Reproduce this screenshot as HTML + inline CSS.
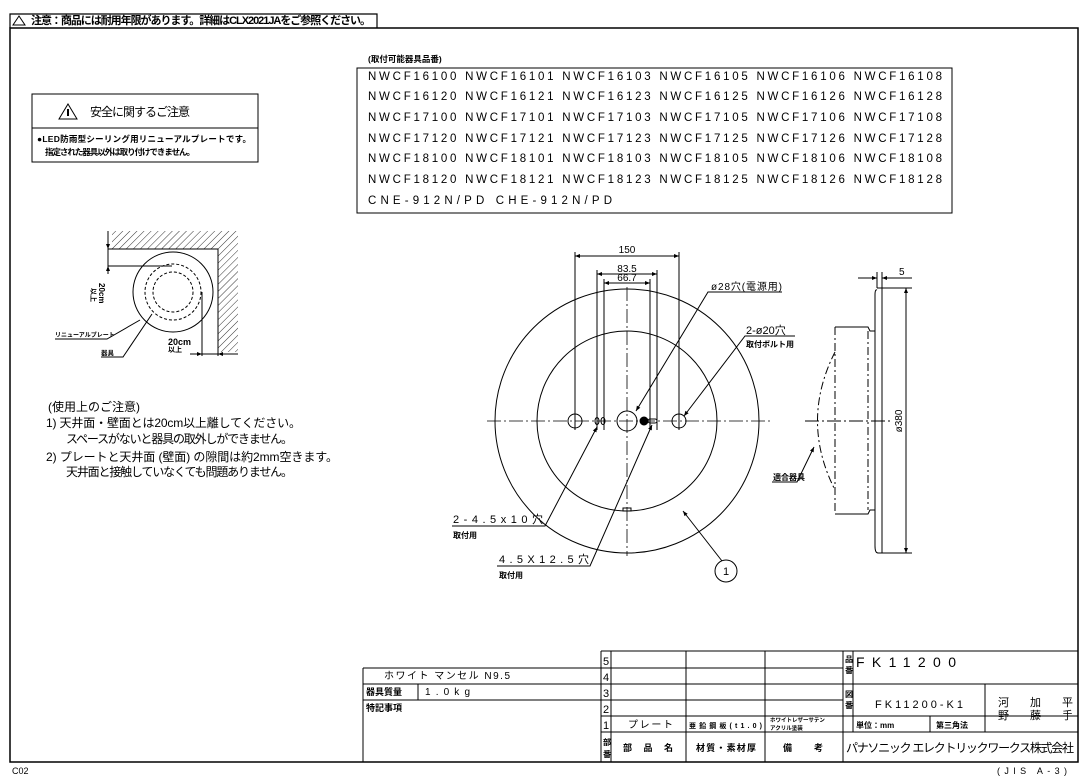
<!DOCTYPE html>
<html><head><meta charset="utf-8"><style>
html,body{margin:0;padding:0;background:#fff;}
svg{display:block;}
text{font-family:"Liberation Sans","Noto Sans CJK JP",sans-serif;fill:#000;}
.b{font-weight:bold;}
</style></head><body>
<svg width="1087" height="779" viewBox="0 0 1087 779" xmlns="http://www.w3.org/2000/svg">
<defs>
<pattern id="h" width="5" height="5" patternUnits="userSpaceOnUse" patternTransform="rotate(45)">
<line x1="0" y1="0" x2="0" y2="5" stroke="#000" stroke-width="0.8"/></pattern>
<marker id="a" viewBox="0 0 10 10" refX="10" refY="5" markerWidth="7" markerHeight="5" orient="auto-start-reverse"><path d="M0,1 L10,5 L0,9z" fill="#000"/></marker>
</defs>
<g fill="none" stroke="#000">
<!-- frame -->
<rect x="10" y="28" width="1068" height="734" stroke-width="1.5"/>
<path d="M10 28 V14 H377 V28" stroke-width="1.2"/>
</g>
<path d="M19 16 L25 25 L13 25z" fill="none" stroke="#000"/>
<text x="31" y="24" font-size="11" class="b" textLength="340">注意：商品には耐用年限があります。詳細はCLX2021JAをご参照ください。</text>

<!-- safety box -->
<rect x="32" y="94" width="226" height="68" fill="none" stroke="#000"/>
<line x1="32" y1="128" x2="258" y2="128" stroke="#000"/>
<path d="M68 104 L77 119 L59 119z" fill="none" stroke="#000"/>
<line x1="68" y1="109" x2="68" y2="116" stroke="#000" stroke-width="2"/>
<text x="90" y="116" font-size="12" textLength="100">安全に関するご注意</text>
<text x="37" y="142" font-size="8.5" class="b" textLength="214">●LED防雨型シーリング用リニューアルプレートです。</text>
<text x="45" y="155" font-size="8.5" class="b" textLength="150">指定された器具以外は取り付けできません。</text>

<!-- corner diagram -->
<rect x="112" y="231" width="126" height="18" fill="url(#h)"/>
<rect x="218" y="249" width="20" height="103" fill="url(#h)"/>
<g fill="none" stroke="#000">
<path d="M108 249 H218 V356"/>
<circle cx="173" cy="292" r="40"/>
<circle cx="173" cy="292" r="28" stroke-dasharray="3,2"/>
<circle cx="173" cy="292" r="20" stroke-dasharray="3,2"/>
<line x1="108" y1="231" x2="108" y2="268"/>
<line x1="108" y1="266" x2="172" y2="266"/>
<line x1="108" y1="240" x2="108" y2="249" marker-end="url(#a)"/>
<line x1="108" y1="257" x2="108" y2="249" marker-end="url(#a)" transform="translate(0,17)"/>
<line x1="202" y1="292" x2="202" y2="356"/>
<line x1="192" y1="354" x2="238" y2="354"/>
<line x1="190" y1="354" x2="202" y2="354" marker-end="url(#a)"/>
<line x1="232" y1="354" x2="218" y2="354" marker-end="url(#a)"/>
<polyline points="55,339 107,339 140,320" />
<polyline points="101,357 123,357 152,314"/>
</g>
<text transform="translate(99,283) rotate(90)" font-size="8" class="b">20cm</text>
<text transform="translate(91,288) rotate(90)" font-size="7" class="b">以上</text>
<text x="168" y="345" font-size="9" class="b">20cm</text>
<text x="168" y="352" font-size="7" class="b">以上</text>
<text x="55" y="337" font-size="6" class="b">リニューアルプレート</text>
<text x="101" y="355" font-size="6.5" class="b">器具</text>

<!-- notes -->
<g font-size="12">
<text x="48" y="411">(使用上のご注意)</text>
<text x="46" y="427" textLength="255">1) 天井面・壁面とは20cm以上離してください。</text>
<text x="66" y="443" textLength="227">スペースがないと器具の取外しができません。</text>
<text x="46" y="461" textLength="292">2) プレートと天井面 (壁面) の隙間は約2mm空きます。</text>
<text x="66" y="476" textLength="227">天井面と接触していなくても問題ありません。</text>
</g>

<!-- product list -->
<text x="368" y="62" font-size="8.5" class="b">(取付可能器具品番)</text>
<rect x="357" y="68" width="595" height="145" fill="none" stroke="#000"/>
<g font-size="11.5">
<text x="368" y="80" textLength="574">NWCF16100 NWCF16101 NWCF16103 NWCF16105 NWCF16106 NWCF16108</text>
<text x="368" y="100" textLength="574">NWCF16120 NWCF16121 NWCF16123 NWCF16125 NWCF16126 NWCF16128</text>
<text x="368" y="121" textLength="574">NWCF17100 NWCF17101 NWCF17103 NWCF17105 NWCF17106 NWCF17108</text>
<text x="368" y="142" textLength="574">NWCF17120 NWCF17121 NWCF17123 NWCF17125 NWCF17126 NWCF17128</text>
<text x="368" y="162" textLength="574">NWCF18100 NWCF18101 NWCF18103 NWCF18105 NWCF18106 NWCF18108</text>
<text x="368" y="183" textLength="574">NWCF18120 NWCF18121 NWCF18123 NWCF18125 NWCF18126 NWCF18128</text>
<text x="368" y="204" textLength="244">CNE-912N/PD    CHE-912N/PD</text>
</g>

<!-- plan view -->
<g fill="none" stroke="#000">
<circle cx="627" cy="421" r="132"/>
<circle cx="627" cy="421" r="90"/>
<line x1="487" y1="421" x2="770" y2="421" stroke-dasharray="14,3,2,3" stroke-width="0.8"/>
<line x1="627" y1="287" x2="627" y2="556" stroke-dasharray="14,3,2,3" stroke-width="0.8"/>
<circle cx="575" cy="421" r="7"/><circle cx="679" cy="421" r="7"/>
<circle cx="627" cy="421" r="10"/>
<ellipse cx="597" cy="421" rx="2" ry="3.5"/><ellipse cx="603" cy="421" rx="2" ry="3.5"/>
<circle cx="644" cy="421" r="4" fill="#000"/>
<rect x="648" y="419" width="9" height="4" rx="2"/>
<rect x="623" y="508" width="8" height="3"/>
<line x1="575" y1="252" x2="575" y2="430"/><line x1="679" y1="252" x2="679" y2="430"/>
<line x1="597" y1="270" x2="597" y2="430"/><line x1="657" y1="270" x2="657" y2="430"/>
<line x1="604" y1="279" x2="604" y2="430"/><line x1="650" y1="279" x2="650" y2="430"/>
<line x1="575" y1="256" x2="679" y2="256" marker-start="url(#a)" marker-end="url(#a)"/>
<line x1="597" y1="274" x2="657" y2="274" marker-start="url(#a)" marker-end="url(#a)"/>
<line x1="604" y1="283" x2="650" y2="283" marker-start="url(#a)" marker-end="url(#a)"/>
<polyline points="782,292 708,292 636,411" marker-end="url(#a)"/>
<polyline points="795,336 745,336 684,416" marker-end="url(#a)"/>
<polyline points="452,526 545,526 597,427" marker-end="url(#a)"/>
<polyline points="497,566 590,566 652,425" marker-end="url(#a)"/>
<line x1="722" y1="561" x2="683" y2="511" marker-end="url(#a)"/>
<circle cx="726" cy="571" r="11"/>
</g>
<g font-size="10">
<text x="627" y="253" text-anchor="middle">150</text>
<text x="627" y="272" text-anchor="middle">83.5</text>
<text x="627" y="281" text-anchor="middle">66.7</text>
<text x="711" y="290" textLength="71">ø28穴(電源用)</text>
<text x="746" y="334" font-size="11">2-ø20穴</text>
<text x="746" y="347" font-size="8" class="b">取付ボルト用</text>
<text x="453" y="523" font-size="11" textLength="90">2-4.5x10穴</text>
<text x="453" y="538" font-size="8" class="b">取付用</text>
<text x="499" y="563" font-size="11" textLength="90">4.5X12.5穴</text>
<text x="499" y="578" font-size="8" class="b">取付用</text>
<text x="726" y="575" text-anchor="middle" font-size="11">1</text>
</g>

<!-- side view -->
<g fill="none" stroke="#000">
<path d="M877 290 Q875 289 875 295 V546 Q875 553 878 553 H882 V288 H877"/>
<path d="M835 327 H868 L870 331 H875 M835 514 H868 L870 510 H875" />
<line x1="835" y1="327" x2="835" y2="514" stroke-dasharray="8,3,2,3"/>
<line x1="868" y1="331" x2="868" y2="510" stroke-dasharray="8,3,2,3"/>
<path d="M835 352 Q800 421 835 490" stroke-dasharray="8,3,2,3"/>
<line x1="805" y1="421" x2="890" y2="421" stroke-dasharray="14,3,2,3"/>
<line x1="882" y1="288" x2="912" y2="288"/><line x1="882" y1="553" x2="912" y2="553"/>
<line x1="906" y1="288" x2="906" y2="553" marker-start="url(#a)" marker-end="url(#a)"/>
<line x1="877" y1="272" x2="877" y2="288"/><line x1="882" y1="272" x2="882" y2="288"/>
<line x1="858" y1="278" x2="877" y2="278" marker-end="url(#a)"/>
<line x1="900" y1="278" x2="882" y2="278" marker-end="url(#a)"/>
<line x1="882" y1="278" x2="912" y2="278"/>
<polyline points="772,482 797,482 814,447" marker-end="url(#a)"/>
</g>
<text x="899" y="275" font-size="10">5</text>
<text transform="translate(902,421) rotate(-90)" font-size="10" text-anchor="middle">ø380</text>
<text x="773" y="480" font-size="8" class="b">適合器具</text>

<!-- title block -->
<g fill="none" stroke="#000">
<line x1="601" y1="651" x2="1078" y2="651"/>
<line x1="363" y1="668" x2="843" y2="668"/>
<line x1="363" y1="684" x2="1078" y2="684"/>
<line x1="363" y1="700" x2="843" y2="700"/>
<line x1="601" y1="716" x2="1078" y2="716"/>
<line x1="601" y1="732" x2="1078" y2="732"/>
<line x1="363" y1="668" x2="363" y2="762"/>
<line x1="418" y1="684" x2="418" y2="700"/>
<line x1="601" y1="651" x2="601" y2="762"/>
<line x1="611" y1="651" x2="611" y2="762"/>
<line x1="686" y1="651" x2="686" y2="762"/>
<line x1="765" y1="651" x2="765" y2="762"/>
<line x1="843" y1="651" x2="843" y2="762"/>
<line x1="853" y1="651" x2="853" y2="732"/>
<line x1="985" y1="684" x2="985" y2="732"/>
<line x1="930" y1="716" x2="930" y2="732"/>
</g>
<g font-size="11">
<text x="603" y="665">5</text><text x="603" y="681">4</text><text x="603" y="697">3</text>
<text x="603" y="713">2</text><text x="603" y="729">1</text>
</g>
<text x="603" y="745" font-size="8" class="b">部</text><text x="603" y="757" font-size="8" class="b">番</text>
<text x="384" y="679" font-size="10" textLength="126">ホワイト マンセル N9.5</text>
<text x="366" y="695" font-size="9" class="b">器具質量</text>
<text x="425" y="695" font-size="10" textLength="45">1.0kg</text>
<text x="366" y="711" font-size="9" class="b">特記事項</text>
<text x="628" y="728" font-size="10" textLength="45">プレート</text>
<text x="689" y="728" font-size="7" class="b" textLength="73">亜鉛鋼板(t1.0)</text>
<text x="770" y="722" font-size="5.5" class="b">ホワイトレザーサテン</text>
<text x="770" y="730" font-size="5.5" class="b">アクリル塗装</text>
<text x="623" y="751" font-size="9" class="b" textLength="50">部 品 名</text>
<text x="696" y="751" font-size="9" class="b" textLength="60">材質・素材厚</text>
<text x="783" y="751" font-size="9" class="b" textLength="40">備  考</text>
<text x="845" y="662" font-size="8" class="b">品</text><text x="845" y="673" font-size="8" class="b">番</text>
<text x="845" y="697" font-size="8" class="b">図</text><text x="845" y="708" font-size="8" class="b">番</text>
<text x="856" y="667" font-size="14" textLength="100">FK11200</text>
<text x="875" y="708" font-size="11" textLength="88">FK11200-K1</text>
<text x="856" y="728" font-size="8" class="b">単位：mm</text>
<text x="936" y="728" font-size="8" class="b">第三角法</text>
<text x="998" y="706" font-size="11">河</text><text x="998" y="719" font-size="11">野</text>
<text x="1030" y="706" font-size="11">加</text><text x="1030" y="719" font-size="11">藤</text>
<text x="1062" y="706" font-size="11">平</text><text x="1062" y="719" font-size="11">手</text>
<text x="846" y="752" font-size="12" textLength="228">パナソニック エレクトリックワークス株式会社</text>
<text x="12" y="774" font-size="9">C02</text>
<text x="997" y="774" font-size="9" textLength="70">(JIS A-3)</text>
</svg>
</body></html>
